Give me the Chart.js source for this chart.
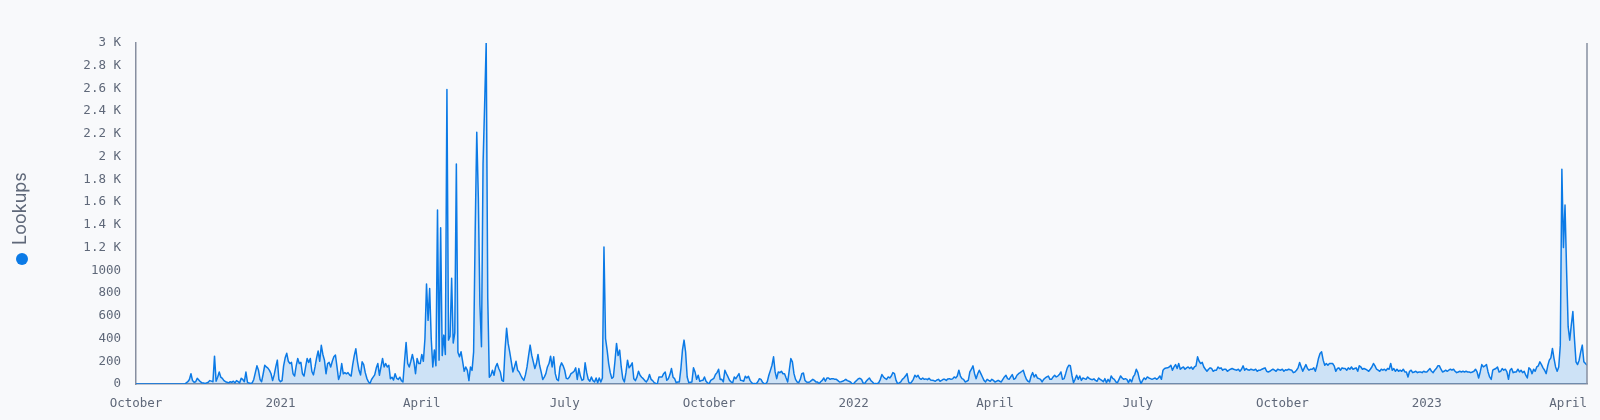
<!DOCTYPE html>
<html>
<head>
<meta charset="utf-8">
<script src="https://cdn.jsdelivr.net/npm/chart.js@4.4.1/dist/chart.umd.min.js"></script>
<style>
html, body { margin: 0; padding: 0; background: #f8f9fb; }
#wrap { width: 1600px; height: 420px; position: relative; }
</style>
</head>
<body>
<div id="wrap"><canvas id="c" width="1600" height="420"></canvas></div>
<script>
// ---- DATA (daily lookups, first day = startDate) ----
const startDate = '2020-10-01';
const seriesName = 'Lookups';

const q4_2020 = [
  0,0,0,0,0,0,0,0,0,0,0,0,0,0,0,0,0,0,0,0,0,0,0,0,0,0,0,0,0,0,0,
  0,10,20,40,90,30,15,20,50,35,20,10,8,5,10,15,30,25,20,245,25,60,105,60,50,30,20,15,10,20,
  15,25,10,30,20,10,50,40,20,105,15,8,5,10,40,100,160,120,40,20,90,165,150,140,120,90,30,80,150,210,40
];
const q1_2021 = [
  20,30,160,230,270,200,180,190,90,70,160,225,180,190,90,70,150,225,190,225,110,80,150,230,290,200,340,260,210,90,180,
  190,150,200,240,255,150,40,80,180,90,100,90,100,80,70,170,250,310,200,120,80,195,170,100,50,20,5,40,
  60,80,140,180,77,150,225,150,180,150,165,47,60,35,91,50,40,60,30,18,200,366,180,150,200,260,195,90,225,180,180
];
const q2_2021 = [
  260,200,400,880,560,840,400,150,300,160,1530,210,1375,250,430,260,2590,386,420,930,360,450,1935,280,240,283,200,112,150,120,
  30,150,120,283,1345,2215,1640,700,327,1935,2450,3000,755,60,77,121,77,150,180,136,106,32,24,300,490,357,280,195,106,150,200,
  121,106,77,50,32,80,150,250,342,254,195,136,180,260,165,106,40,60,91,150,180,245,150,239,91,40,30,150,186,160
];
const q3_2021 = [
  121,50,45,62,91,100,112,142,40,136,70,32,41,186,100,41,24,62,30,18,53,12,53,18,53,1205,400,300,180,100,50,
  62,200,357,250,298,150,47,18,100,210,142,160,186,47,30,60,112,77,60,47,30,18,40,83,41,30,12,5,3,62,62,
  62,91,106,32,47,83,136,60,47,12,18,18,136,300,386,280,62,12,15,18,142,106,41,77,24,30,32,62,24,10
];
const q4_2021 = [
  3,32,41,50,83,100,130,40,41,18,121,90,62,32,18,12,62,47,70,91,32,30,24,68,53,68,32,12,3,5,3,
  20,47,41,15,3,3,20,77,120,165,239,106,47,106,100,112,90,91,53,18,120,224,195,91,41,18,12,40,91,97,
  32,18,15,18,30,41,32,18,18,3,20,32,53,24,53,53,41,47,47,41,41,30,18,20,24,32,41,30,24,18,3
];
const q1_2022 = [
  3,20,32,47,50,41,10,3,24,40,53,30,18,3,5,3,12,41,83,62,50,41,62,53,70,100,91,32,3,10,18,
  41,53,70,91,18,3,20,41,77,62,77,50,41,53,41,45,38,50,36,32,30,24,35,41,24,32,41,41,
  32,45,47,41,45,62,53,70,121,70,47,41,18,24,32,106,130,160,91,47,90,121,91,62,32,18,41,32,24,41,32
];
const q2_2022 = [
  18,24,32,24,18,41,62,77,47,41,62,83,41,50,77,91,100,110,121,77,41,24,18,70,100,62,83,53,47,41,
  18,41,53,62,70,41,41,62,77,62,70,83,106,41,47,91,140,165,160,77,12,41,77,41,70,32,53,47,41,62,50,
  41,38,45,32,24,53,41,32,20,47,12,41,18,71,50,41,18,12,41,71,53,41,47,41,12,41,18,62,83,130
];
const q3_2022 = [
  100,41,3,32,53,41,62,53,47,41,47,53,41,53,71,41,121,136,140,142,150,165,121,150,171,136,180,130,142,150,130,
  142,150,136,150,130,150,160,239,200,180,190,150,130,112,130,142,136,112,121,121,150,136,142,121,130,130,112,121,130,136,130,
  125,121,130,112,130,160,121,136,125,121,130,125,121,130,112,121,121,130,136,142,112,106,112,121,130,121,112,130,125,121
];
const q4_2022 = [
  130,112,125,121,130,125,121,100,106,121,142,189,150,112,142,171,136,121,130,130,142,112,160,225,268,283,210,165,180,165,180,
  180,180,160,112,136,142,121,142,136,136,121,142,130,150,130,136,142,112,160,150,130,136,130,121,112,130,150,180,160,130,
  121,112,130,121,130,118,136,130,180,121,136,112,130,112,121,112,130,106,106,62,112,121,100,106,112,100,106,106,100,112,106
];
const q1_2023 = [
  106,121,136,112,100,121,136,160,160,130,106,112,121,112,121,130,121,130,112,100,106,112,106,112,106,112,106,106,100,106,112,
  130,106,53,106,171,150,160,171,106,62,41,121,130,136,150,106,112,136,121,130,106,41,121,136,100,106,106,130,
  106,121,100,112,77,53,142,130,91,130,112,150,160,195,171,142,121,91,160,210,230,313,224,150,112,150,342,1890,1200,1575,1000
];
const apr_2023 = [504,386,519,637,400,195,171,209,283,342,195,180,165];

const xTickDates = ['2020-10-01','2021-01-01','2021-04-01','2021-07-01','2021-10-01','2022-01-01','2022-04-01','2022-07-01','2022-10-01','2023-01-01','2023-04-01'];
const xTickLabels = ['October','2021','April','July','October','2022','April','July','October','2023','April'];
const yMax = 3000;
const yStep = 200;

// ---- build ----
const series = [].concat(q4_2020, q1_2021, q2_2021, q3_2021, q4_2021, q1_2022, q2_2022, q3_2022, q4_2022, q1_2023, apr_2023);
const DAY = 86400000;
const dayIndex = d => Math.round((Date.parse(d + 'T00:00:00Z') - Date.parse(startDate + 'T00:00:00Z')) / DAY);
const xTickDays = xTickDates.map(dayIndex);
const points = series.map((v, i) => ({ x: i, y: v }));

const lineColor = '#0b7ae6';
const fillColor = 'rgba(11,122,230,0.18)';
const tickColor = '#5f6879';
const axisColor = '#878fa0';
const monoFont = { family: "'DejaVu Sans Mono', monospace", size: 12.5 };

const sideLegend = {
  id: 'sideLegend',
  afterDraw(chart) {
    const ctx = chart.ctx;
    const a = chart.chartArea;
    ctx.save();
    ctx.strokeStyle = axisColor;
    ctx.lineWidth = 1.5;
    ctx.beginPath();
    ctx.moveTo(a.right, a.top);
    ctx.lineTo(a.right, a.bottom);
    ctx.stroke();
    ctx.fillStyle = lineColor;
    ctx.beginPath();
    ctx.arc(22, 259, 6, 0, Math.PI * 2);
    ctx.fill();
    ctx.translate(26, 245);
    ctx.rotate(-Math.PI / 2);
    ctx.font = "18px Inter, 'Noto Sans', sans-serif";
    ctx.fillStyle = tickColor;
    ctx.textAlign = 'left';
    ctx.textBaseline = 'alphabetic';
    ctx.fillText(seriesName, 0, 0);
    ctx.restore();
  }
};

new Chart(document.getElementById('c'), {
  type: 'line',
  data: {
    datasets: [{
      label: seriesName,
      data: points,
      borderColor: lineColor,
      backgroundColor: fillColor,
      borderWidth: 1.5,
      borderJoinStyle: 'round',
      pointRadius: 0,
      pointHoverRadius: 0,
      tension: 0,
      fill: 'origin'
    }]
  },
  options: {
    responsive: false,
    animation: false,
    devicePixelRatio: 1,
    layout: { padding: { top: 43, right: 13, left: 0, bottom: 0 } },
    plugins: { legend: { display: false }, tooltip: { enabled: false } },
    scales: {
      x: {
        type: 'linear',
        min: 0,
        max: series.length - 1,
        afterBuildTicks: s => { s.ticks = xTickDays.map(v => ({ value: v })); },
        afterFit: s => { s.height = 36; },
        ticks: {
          autoSkip: false,
          maxRotation: 0,
          minRotation: 0,
          padding: 12,
          color: tickColor,
          font: monoFont,
          callback: (v, i) => xTickLabels[i]
        },
        grid: { display: false, drawTicks: false },
        border: { display: true, color: axisColor, width: 1.5 }
      },
      y: {
        min: 0,
        max: yMax,
        afterFit: s => { s.width = 136; },
        ticks: {
          stepSize: yStep,
          padding: 15,
          color: tickColor,
          font: monoFont,
          callback: v => (v > 1000 ? (v / 1000) + ' K' : String(v))
        },
        grid: { display: false, drawTicks: false },
        border: { display: true, color: axisColor, width: 1.5 }
      }
    }
  },
  plugins: [sideLegend]
});
</script>
</body>
</html>
